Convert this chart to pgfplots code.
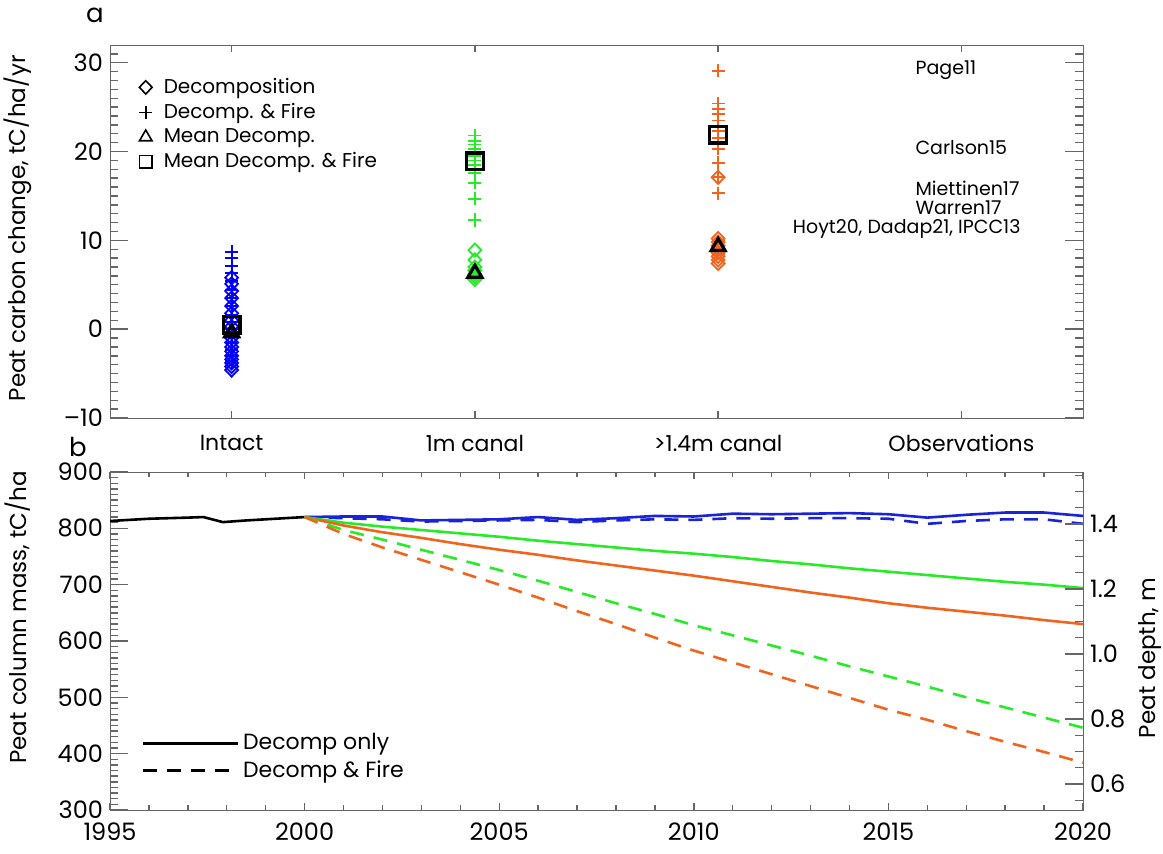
\documentclass[border=0pt]{standalone}
\usepackage{pgfplots}
\pgfplotsset{compat=1.18}
\usepackage{fontspec}
\setmainfont{Poppins}
\definecolor{cblue}{RGB}{0,0,255}
\definecolor{cgreen}{RGB}{40,235,40}
\definecolor{corange}{RGB}{240,100,30}
\definecolor{lblue}{RGB}{25,35,215}
\pgfplotsset{
  myax/.style={
    /pgf/number format/assume math mode=true,
    tick label style={font=\fontsize{12}{14}\selectfont, text=black},
    every axis label/.append style={font=\fontsize{11.5}{13}\selectfont, text=black},
    tick align=inside,
    major tick length=9pt, minor tick length=4pt,
    every tick/.style={black!60, line width=0.7pt},
    every axis/.append style={black!60},
  },
  dmd/.style={only marks, mark=diamond, mark size=3.3pt, mark options={xscale=1.3}, line width=0.9pt, forget plot},
}
\begin{document}
\begin{tikzpicture}
\path[use as bounding box] (0pt,0pt) rectangle (581.5pt,427pt);
% ---------- panel a ----------
\begin{axis}[myax,
  at={(55pt,218pt)}, anchor=south west, scale only axis,
  width=486.5pt, height=186.5pt,
  xmin=0.5, xmax=4.5, ymin=-10, ymax=32,
  xtick={1,2,3,4},
  xticklabels={Intact,1m canal,{>1.4m canal},Observations},
  xticklabel style={font=\fontsize{11}{13}\selectfont, yshift=-5pt},
  xtick style={/pgfplots/major tick length=3.5pt},
  xtick pos=both, ytick pos=both,
  ytick={-10,0,10,20,30},
  yticklabels={–10,0,10,20,30},
  minor ytick={-9,-8,...,31},
  ylabel={Peat carbon change, tC/ha/yr},
  ylabel style={at={(axis description cs:-0.0946,0.509)}, anchor=center},
  legend style={draw=none, fill=none, at={(rel axis cs:0.024,0.928)}, anchor=north west,
    font=\fontsize{10}{12}\selectfont, row sep=-0.5pt, inner sep=1pt,
    cells={anchor=west}, text=black},
  legend image code/.code={\path[draw=none] (0pt,0pt) -- (12pt,0pt); \draw plot coordinates {(5pt,0pt)};},
]
\addlegendimage{only marks, mark=diamond, mark size=3.3pt, mark options={xscale=1.3}, black, line width=0.8pt}
\addlegendentry{Decomposition}
\addlegendimage{only marks, mark=+, mark size=3.3pt, black, line width=0.8pt}
\addlegendentry{Decomp. \& Fire}
\addlegendimage{only marks, mark=triangle, mark size=3.6pt, black, line width=0.8pt}
\addlegendentry{Mean Decomp.}
\addlegendimage{only marks, mark=square, mark size=3.2pt, black, line width=0.8pt}
\addlegendentry{Mean Decomp. \& Fire}
% Intact
\addplot[dmd, cblue] coordinates {
(1,5.8)(1,5.1)(1,4.3)(1,3.5)(1,2.6)(1,1.8)(1,1.0)(1,0.3)(1,-0.4)(1,-1.0)(1,-1.5)(1,-2.0)(1,-2.5)(1,-3.0)(1,-3.4)(1,-3.8)(1,-4.2)(1,-4.6)};
\addplot[only marks, mark=+, mark size=3.3pt, cblue, line width=0.9pt, forget plot] coordinates {
(1,8.7)(1,8.0)(1,7.1)(1,6.3)(1,5.4)(1,4.4)(1,3.5)(1,2.6)(1,1.6)(1,0.8)(1,0)(1,-0.8)(1,-1.6)(1,-2.3)(1,-3.0)(1,-3.6)};
\addplot[only marks, mark=triangle, mark size=4pt, black, line width=1.6pt, fill=cblue, forget plot] coordinates {(1,-0.4)};
\addplot[only marks, mark=square, mark size=4.2pt, black, line width=1.6pt, fill=cblue, forget plot] coordinates {(1,0.5)};
% 1m canal
\addplot[dmd, cgreen] coordinates {
(2,8.9)(2,7.8)(2,7.0)(2,6.6)(2,6.2)(2,5.9)(2,5.6)};
\addplot[only marks, mark=+, mark size=3.3pt, cgreen, line width=0.9pt, forget plot] coordinates {
(2,21.8)(2,21.2)(2,20.8)(2,20.3)(2,19.9)(2,19.5)(2,19.0)(2,18.5)(2,18.0)(2,17.6)(2,16.5)(2,14.7)(2,12.3)};
\addplot[only marks, mark=triangle, mark size=4pt, black, line width=1.6pt, fill=cgreen, forget plot] coordinates {(2,6.3)};
\addplot[only marks, mark=square, mark size=4.2pt, black, line width=1.6pt, fill=cgreen, forget plot] coordinates {(2,18.9)};
% >1.4m canal
\addplot[dmd, corange] coordinates {
(3,17.1)(3,10.2)(3,9.8)(3,9.4)(3,9.0)(3,8.6)(3,8.2)(3,7.8)(3,7.4)};
\addplot[only marks, mark=+, mark size=3.3pt, corange, line width=0.9pt, forget plot] coordinates {
(3,29.1)(3,25.4)(3,24.8)(3,24.2)(3,23.5)(3,22.8)(3,22.3)(3,21.5)(3,20.9)(3,20.3)(3,18.7)(3,17.1)(3,15.3)(3,9.9)(3,9.3)(3,8.5)};
\addplot[only marks, mark=triangle, mark size=4pt, black, line width=1.6pt, fill=corange, forget plot] coordinates {(3,9.3)};
\addplot[only marks, mark=square, mark size=4.2pt, black, line width=1.6pt, fill=corange, forget plot] coordinates {(3,21.9)};
% Observations
\begin{scope}[font=\fontsize{9.5}{11}\selectfont]
\node[anchor=west, inner sep=0pt, black] at (axis cs:3.81,29.2) {Page11};
\node[anchor=west, inner sep=0pt, black] at (axis cs:3.81,20.4) {Carlson15};
\node[anchor=west, inner sep=0pt, black] at (axis cs:3.81,15.8) {Miettinen17};
\node[anchor=west, inner sep=0pt, black] at (axis cs:3.81,13.7) {Warren17};
\node[anchor=west, inner sep=0pt, black] at (axis cs:3.306,11.3) {Hoyt20, Dadap21, IPCC13};
\end{scope}
\end{axis}
% ---------- panel b ----------
\begin{axis}[myax,
  at={(55pt,22pt)}, anchor=south west, scale only axis,
  width=486.5pt, height=169pt,
  xmin=1995, xmax=2020, ymin=300, ymax=900,
  xtick={1995,2000,2005,2010,2015,2020},
  xticklabels={1995,2000,2005,2010,2015,2020},
  minor xtick={1996,1997,1998,1999,2001,2002,2003,2004,2006,2007,2008,2009,2011,2012,2013,2014,2016,2017,2018,2019},
  xticklabel style={yshift=-3pt},
  xtick style={/pgfplots/major tick length=3.5pt, /pgfplots/minor tick length=2.5pt},
  ytick={300,400,500,600,700,800,900},
  minor ytick={310,320,...,890},
  xtick pos=both, ytick pos=left,
  ylabel={Peat column mass, tC/ha},
  ylabel style={at={(axis description cs:-0.0946,0.57)}, anchor=center},
  legend style={draw=none, fill=none, at={(rel axis cs:0.03,0.245)}, anchor=north west,
    font=\fontsize{11}{13}\selectfont, row sep=0pt, inner sep=1pt,
    cells={anchor=west}, text=black},
  legend image code/.code={\draw[#1] (0pt,0pt) -- (47.5pt,0pt);},
]
\addlegendimage{black, line width=1.3pt}
\addlegendentry{Decomp only}
\addlegendimage{black, line width=1.3pt, dash pattern=on 7pt off 5pt}
\addlegendentry{Decomp \& Fire}
\addplot[black, line width=1.3pt, forget plot] coordinates {
(1995,813)(1996,817)(1997,819)(1997.4,820)(1997.9,811)(1998.5,814)(1999,816)(2000,820)};
\addplot[lblue, line width=1.3pt, forget plot] coordinates {
(2000,820)(2001,821)(2002,821)(2003,814)(2004,815)(2005,816)(2006,820)(2007,815)(2008,818)(2009,822)(2010,821)(2011,826)(2012,825)(2013,826)(2014,827)(2015,825)(2016,819)(2017,824)(2018,828)(2019,828)(2020,822)};
\addplot[lblue, line width=1.3pt, dash pattern=on 7pt off 5pt, forget plot] coordinates {
(2000,820)(2001,818)(2002,816)(2003,812)(2004,813)(2005,814)(2006,815)(2007,811)(2008,814)(2009,816)(2010,815)(2011,818)(2012,817)(2013,818)(2014,818)(2015,817)(2016,808)(2017,813)(2018,816)(2019,816)(2020,808)};
\addplot[cgreen, line width=1.3pt, forget plot] coordinates {
(2000,820)(2001,810)(2002,803)(2003,797)(2004,791)(2005,785)(2006,778)(2007,772)(2008,766)(2009,760)(2010,755)(2011,749)(2012,742)(2013,736)(2014,729)(2015,723)(2016,717)(2017,711)(2018,705)(2019,700)(2020,694)};
\addplot[corange, line width=1.3pt, forget plot] coordinates {
(2000,820)(2001,805)(2002,793)(2003,783)(2004,772)(2005,762)(2006,753)(2007,743)(2008,734)(2009,725)(2010,716)(2011,706)(2012,696)(2013,686)(2014,677)(2015,667)(2016,659)(2017,652)(2018,645)(2019,637)(2020,630)};
\addplot[cgreen, line width=1.3pt, dash pattern=on 7pt off 5pt, forget plot] coordinates {
(2000,820)(2001,797)(2002,780)(2003,762)(2004,744)(2005,726)(2006,707)(2007,687)(2008,667)(2009,648)(2010,628)(2011,610)(2012,592)(2013,574)(2014,555)(2015,537)(2016,519)(2017,500)(2018,482)(2019,464)(2020,446)};
\addplot[corange, line width=1.3pt, dash pattern=on 7pt off 5pt, forget plot] coordinates {
(2000,820)(2001,790)(2002,766)(2003,744)(2004,722)(2005,700)(2006,677)(2007,653)(2008,630)(2009,606)(2010,583)(2011,562)(2012,541)(2013,520)(2014,499)(2015,478)(2016,460)(2017,440)(2018,421)(2019,403)(2020,384)};
\end{axis}
\begin{axis}[myax,
  at={(55pt,22pt)}, anchor=south west, scale only axis,
  width=486.5pt, height=169pt,
  xmin=1995, xmax=2020, ymin=0.52, ymax=1.56,
  axis x line=none, axis y line*=right,
  ytick={0.6,0.8,1.0,1.2,1.4},
  yticklabels={0.6,0.8,1.0,1.2,1.4},
  minor ytick={0.55,0.65,0.7,0.75,0.85,0.9,0.95,1.05,1.1,1.15,1.25,1.3,1.35,1.45,1.5,1.55},
  ylabel={Peat depth, m},
  ylabel style={at={(axis description cs:1.069,0.45)}, anchor=center},
]
\addplot[draw=none, forget plot] coordinates {(1995,0.6)(2020,0.6)};
\end{axis}
\node[font=\fontsize{13}{15}\selectfont] at (47.5pt,419.5pt) {a};
\node[font=\fontsize{13}{15}\selectfont] at (39pt,203.5pt) {b};
\end{tikzpicture}
\end{document}
